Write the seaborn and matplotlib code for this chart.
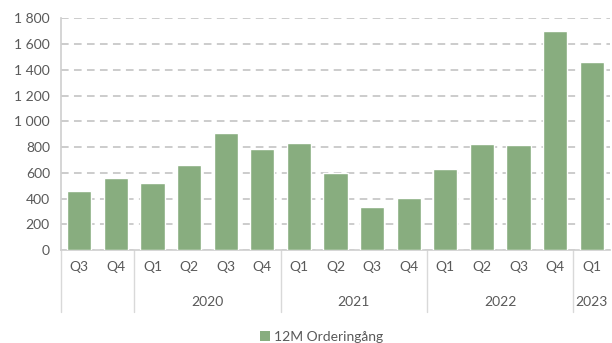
import matplotlib
matplotlib.use('Agg')
import matplotlib.pyplot as plt
import matplotlib.transforms as mtransforms
from matplotlib.patches import Patch
import seaborn as sns
import pandas as pd

# Data
quarters = ['Q3', 'Q4', 'Q1', 'Q2', 'Q3', 'Q4', 'Q1', 'Q2', 'Q3', 'Q4',
            'Q1', 'Q2', 'Q3', 'Q4', 'Q1']
years = ['2019', '2019', '2020', '2020', '2020', '2020', '2021', '2021', '2021', '2021',
         '2022', '2022', '2022', '2022', '2023']
orders = [460, 558, 518, 662, 908, 787, 830, 600, 337, 407,
          632, 822, 812, 1698, 1462]
year_labels = ['', '2020', '2021', '2022', '2023']
series_name = '12M Orderingång'

bar_color = '#88ad7f'
grid_color = '#bfbfbf'
text_color = '#595959'

sns.set_theme(style='white')
plt.rcParams['font.family'] = ['Lato', 'DejaVu Sans']

df = pd.DataFrame({'pos': range(len(orders)), 'value': orders})

fig = plt.figure(figsize=(6.12, 3.43), dpi=100)
ax = fig.add_axes([61 / 612, 1 - 250 / 343, 549 / 612, 231.7 / 343])

sns.barplot(data=df, x='pos', y='value', color=bar_color, width=0.66,
            saturation=1, ax=ax, zorder=3)

ax.set_xlim(-0.5, len(orders) - 0.5)
ax.set_ylim(0, 1800)
ax.set_yticks(range(0, 1801, 200))
ax.set_yticklabels([f'{v:,}'.replace(',', ' ') for v in range(0, 1801, 200)])
ax.yaxis.grid(True, linestyle=(0, (5, 3.5)), color=grid_color, linewidth=1.1, zorder=0)
ax.set_xticks(range(len(orders)))
ax.set_xticklabels(quarters)
ax.set_xlabel('')
ax.set_ylabel('')

for s in ['top', 'right']:
    ax.spines[s].set_visible(False)
ax.spines['left'].set_color('#d0d0d0')
ax.spines['bottom'].set_color('#d0d0d0')
ax.tick_params(axis='y', length=5, color=grid_color, labelsize=10, labelcolor=text_color, pad=3)
ax.tick_params(axis='x', length=0, labelsize=10, labelcolor=text_color, pad=8)

# year group labels and separators below the axis
trans = mtransforms.blended_transform_factory(ax.transData, ax.transAxes)
bottom = -(312 - 250) / 231.7
bounds = [-0.5]
for i in range(1, len(years)):
    if years[i] != years[i - 1]:
        bounds.append(i - 0.5)
bounds.append(len(years) - 0.5)
for b in bounds[:-1]:
    ax.plot([b, b], [0, bottom], transform=trans, color='#d9d9d9',
            linewidth=1, clip_on=False)
for lbl, a, b in zip(year_labels, bounds[:-1], bounds[1:]):
    ax.text((a + b) / 2, -(302 - 250) / 231.7, lbl, transform=trans,
            ha='center', va='center', fontsize=10, color=text_color)

handle = Patch(facecolor=bar_color, edgecolor='none')
fig.legend([handle], [series_name], loc='center', bbox_to_anchor=(322 / 612, 1 - 337 / 343),
           frameon=False, fontsize=10, labelcolor=text_color, handlelength=0.7,
           handleheight=0.7, handletextpad=0.3)

fig.savefig('out.png', dpi=100)
